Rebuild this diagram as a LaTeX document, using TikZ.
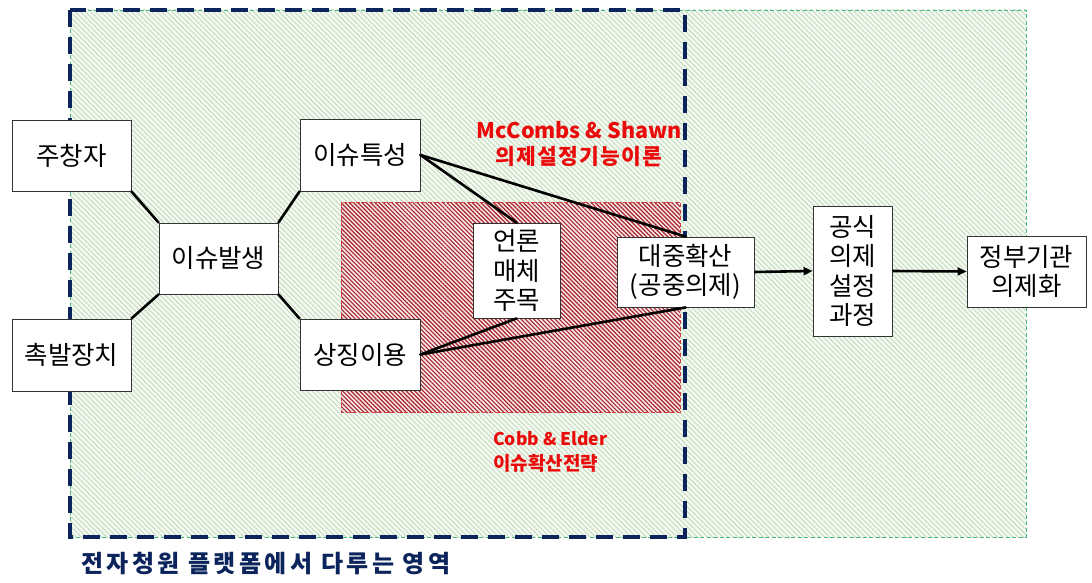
\documentclass[tikz,border=0pt]{standalone}
\usepackage{fontspec}
\setmainfont{Noto Sans CJK KR}
\usetikzlibrary{patterns.meta,arrows.meta}
\definecolor{navy}{RGB}{12,36,92}
\definecolor{hgreen}{RGB}{200,222,192}
\definecolor{gbase}{RGB}{246,250,244}
\definecolor{gborder}{RGB}{70,185,130}
\definecolor{hred}{RGB}{165,35,45}
\definecolor{rbase}{RGB}{248,232,232}
\definecolor{rborder}{RGB}{215,60,60}
\definecolor{lred}{RGB}{235,10,10}
\begin{document}
\begin{tikzpicture}[x=1pt,y=-1pt,
  nbox/.style={draw=black!80, line width=0.9pt, fill=white, inner sep=0pt, align=center,
    font=\fontsize{25.5}{29.5}\selectfont},
  conn/.style={line width=2.6pt, line cap=round},
  flow/.style={line width=2.6pt, -{Triangle[length=9pt,width=8pt]}},
  redlbl/.style={text=lred, font=\bfseries\fontsize{21.5}{26}\selectfont, inner sep=0pt},
  navylbl/.style={text=navy, font=\bfseries\fontsize{24}{26}\selectfont, inner sep=0pt}]
\useasboundingbox (0,0) rectangle (1092,583);
% green region
\fill[gbase] (70,10) rectangle (1026,537);
\path[pattern={Lines[angle=-45,distance=3.6pt,line width=1.1pt]}, pattern color=hgreen]
  (70,10) rectangle (1026,537);
\draw[gborder, line width=0.7pt, dash pattern=on 4pt off 2.5pt] (70,10) rectangle (1026,537);
% red region
\fill[rbase] (341,202) rectangle (680,412);
\path[pattern={Lines[angle=-45,distance=3pt,line width=1.15pt]}, pattern color=hred]
  (341,202) rectangle (680,412);
\draw[rborder, line width=0.8pt, dash pattern=on 4pt off 2.5pt] (341,202) rectangle (680,412);
% navy dashed region
\draw[navy, line width=4pt, dash pattern=on 17pt off 10pt] (70,10) rectangle (685,537);

% boxes
\node[nbox, minimum width=119pt, minimum height=71pt] (jc) at (71.5,155.5) {주창자};
\node[nbox, minimum width=119pt, minimum height=71pt] (ib) at (218.5,258.5) {이슈발생};
\node[nbox, minimum width=119pt, minimum height=72pt] (cb) at (71.5,355) {촉발장치};
\node[nbox, minimum width=120pt, minimum height=72pt] (it) at (360,155) {이슈특성};
\node[nbox, minimum width=120pt, minimum height=71pt] (sj) at (360,354.5) {상징이용};
\node[nbox, minimum width=87pt, minimum height=95pt] (em) at (516.5,270.5) {언론\\매체\\주목};
\node[nbox, minimum width=137pt, minimum height=70pt] (dj) at (685.5,272) {대중확산\\(공중의제)};
\node[nbox, minimum width=79pt, minimum height=130pt] (gs) at (852.5,271) {공식\\의제\\설정\\과정};
\node[nbox, minimum width=119pt, minimum height=71pt] (jb) at (1026.5,271.5) {정부기관\\의제화};

% connectors
\draw[conn] (jc.south east) -- (ib.north west);
\draw[conn] (cb.north east) -- (ib.south west);
\draw[conn] (it.south west) -- (ib.north east);
\draw[conn] (sj.north west) -- (ib.south east);
\draw[conn] (it.east) -- (em.north);
\draw[conn] (it.east) -- (dj.north);
\draw[conn] (sj.east) -- (em.south);
\draw[conn] (sj.east) -- (dj.south);
\draw[flow] (dj.east) -- (gs.west);
\draw[flow] (gs.east) -- (jb.west);

% labels
\node[redlbl, align=center] (mc) at (579,144) {McCombs \& Shawn\\{\addfontfeature{LetterSpace=6}의제설정기능이론}};
\node[redlbl, align=left, anchor=west, font=\bfseries\fontsize{19}{25}\selectfont] (ce) at (493,452) {{\fontsize{17.5}{25}\selectfont Cobb \& Elder}\\이슈확산전략};
\node[navylbl, anchor=west] (pl) at (81,564) {\addfontfeature{LetterSpace=14}전자청원 플랫폼에서 다루는 영역};
\end{tikzpicture}
\end{document}
